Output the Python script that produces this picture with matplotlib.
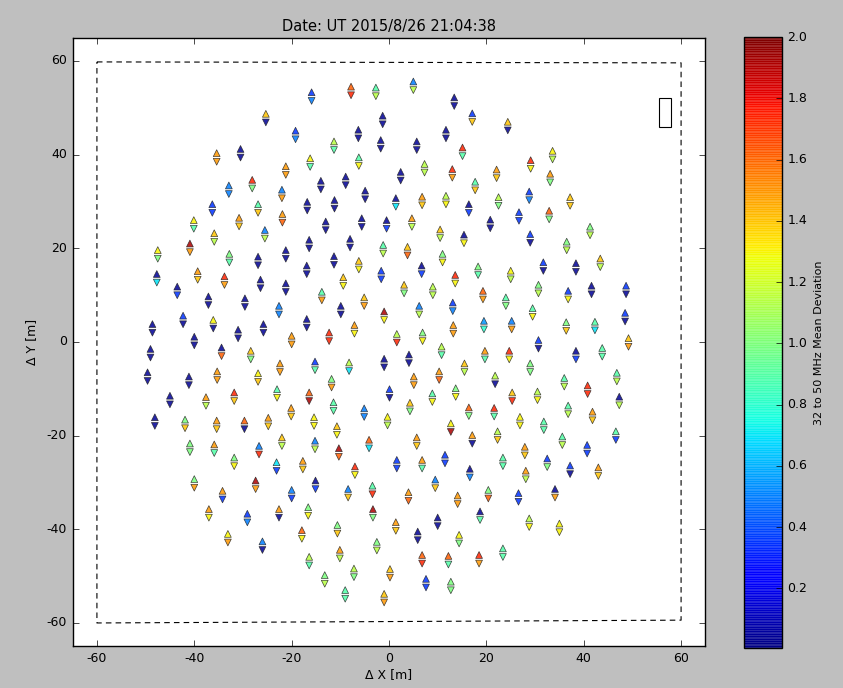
import numpy as np
import matplotlib
matplotlib.use("Agg")
import matplotlib.pyplot as plt
from matplotlib.patches import Rectangle
from matplotlib.colors import Normalize

plt.style.use("classic")
plt.rcParams["axes.unicode_minus"] = False
plt.rcParams["font.family"] = ["DejaVu Sans"]

# Antenna positions (m) and per-polarisation mean deviation, 32-50 MHz
ant_x = [
    -25.3, -19.2, -35.4, -30.5, -16.2, -21.2, -28.1, -32.9, -22.0, -36.3, -26.9, -16.8,
    -15.9, -7.8, -2.7, 5.0, 13.4, 17.1, -1.3, -6.3, 11.7, -11.3, -1.7, 5.7,
    15.1, -6.2, 7.3, 13.0, -14.0, -8.9, 2.4, 17.7, -4.9, -11.2, 1.4, 6.8,
    11.7, 16.4, 24.4, 33.6, 29.1, 22.1, 33.1, 28.8, 22.5, 37.2, 26.7, 32.9,
    -21.9, -30.8, -40.1, -35.9, -25.5, -16.4, -40.9, -47.5, -32.8, -26.9, -21.2, -16.9,
    -47.7, -39.3, -33.8, -26.4, -21.2, -43.5, -37.1, -29.6, -22.6, -42.3, -36.1, -48.6,
    -31.0, -25.8, -16.9, -40.0, -20.0,
    -13.0, -5.6, -0.5, 4.7, 10.5, 15.4, -8.0, -1.2, 3.8, 11.0, -11.3, -6.2,
    -1.6, 6.7, -9.4, 13.6, -13.8, 3.1, 9.0, -5.1, -9.9, -1.0, 6.2, 13.1,
    -7.1, -12.3, 1.6, 6.9, 13.2,
    20.8, 29.0, 41.3, 36.5, 31.7, 38.4, 43.4, 18.3, 25.0, 30.7, 36.8, 41.6,
    48.7, 19.3, 24.0, 29.5, 19.5, 25.2, 36.4, 42.3, 48.5, 30.7, 49.2,
    -34.4, -28.4, -49.0, -49.6, -41.1, -35.3, -22.4, -26.9, -45.0, -37.6, -31.8, -23.0,
    -16.4, -20.1, -48.1, -41.9, -35.4, -29.7, -24.8, -22.0, -40.9, -35.9, -26.7, -31.8,
    -23.1, -17.7,
    10.8, -15.2, -8.2, -1.0, 4.1, 15.5, -11.8, 5.1, 10.3, 0.1, 8.9, 13.7,
    -11.4, -5.1, 4.3, 16.4, -15.4, -10.7, -0.3, 12.7, -15.2, -10.3, -4.1, 5.7,
    17.1, -7.0, 1.6, 6.8, 11.5, 16.6,
    19.7, 24.7, 38.4, 43.8, 29.0, 21.8, 36.0, 46.8, 40.8, 25.3, 30.5, 47.3,
    21.6, 36.8, 41.8, 26.9, 31.8, 22.3, 35.6, 46.6, 27.9, 40.7, 23.4, 32.5,
    28.1, 37.2, 43.0,
    -40.0, -27.4, -34.2, -20.0, -37.0, -29.1, -22.6, -16.6, -33.1, -26.0, -17.9, -16.4,
    -15.1, -8.4, -3.4, 4.0, 9.5, 14.1, -3.3, 1.4, 10.0, -10.6, 5.9, 14.4,
    -2.5, -10.1, 6.8, 12.2, -7.2, 0.2, -13.2, 7.6, 12.7, -9.0, -1.0,
    20.4, 26.6, 34.1, 18.7, 28.8, 35.0, 18.5, 23.4,
]
ant_y = [
    47.8, 44.2, 39.4, 40.3, 38.3, 36.6, 33.7, 32.5, 31.6, 28.5, 28.5, 29.0,
    52.4, 53.6, 53.4, 54.7, 51.3, 47.9, 47.4, 44.4, 44.4, 41.9, 42.2, 41.9,
    40.6, 38.5, 37.1, 36.0, 33.5, 34.4, 35.4, 33.3, 31.4, 29.4, 29.8, 30.1,
    30.3, 28.5, 46.1, 39.9, 37.9, 35.9, 35.0, 31.2, 30.0, 30.0, 26.8, 27.1,
    26.4, 25.6, 25.1, 22.3, 23.0, 20.9, 20.1, 18.7, 17.9, 17.3, 18.7, 15.4,
    13.6, 14.2, 13.1, 12.4, 11.6, 10.9, 8.8, 8.4, 6.8, 4.7, 3.8, 2.9,
    1.7, 2.9, 4.0, 0.2, 0.4,
    24.8, 25.5, 25.1, 25.5, 23.1, 22.0, 21.1, 19.8, 19.4, 17.9, 17.4, 16.4,
    14.3, 15.4, 12.9, 13.4, 9.8, 11.3, 10.9, 8.6, 6.8, 5.6, 6.8, 7.5,
    2.7, 1.1, 0.8, 1.1, 2.7,
    25.2, 22.1, 23.7, 20.5, 16.1, 15.9, 16.9, 15.2, 14.3, 11.3, 10.0, 11.1,
    11.1, 10.0, 8.6, 6.3, 3.6, 3.6, 3.3, 3.4, 5.3, -0.5, -0.1,
    -2.1, -2.8, -2.4, -7.4, -8.3, -7.2, -5.5, -7.6, -12.4, -12.7, -11.7, -11.0,
    -11.7, -15.0, -17.0, -17.5, -17.7, -17.7, -17.1, -21.3, -22.6, -22.8, -23.1, -25.6,
    -26.6, -26.3,
    -1.9, -5.1, -5.3, -4.5, -3.6, -5.5, -8.8, -8.3, -7.2, -11.0, -11.9, -10.8,
    -13.8, -15.1, -13.9, -14.9, -17.0, -18.9, -16.9, -18.3, -22.0, -23.6, -21.8, -21.3,
    -20.8, -27.5, -26.1, -26.1, -25.0, -28.0,
    -2.8, -2.8, -2.8, -2.2, -5.5, -8.1, -8.6, -7.5, -10.2, -11.7, -11.5, -12.6,
    -15.0, -14.5, -15.8, -16.9, -17.9, -20.0, -21.1, -20.0, -23.3, -22.9, -25.6, -25.8,
    -28.4, -27.3, -27.7,
    -30.2, -30.5, -32.7, -32.5, -36.6, -37.6, -36.6, -36.2, -41.9, -43.5, -41.1, -46.8,
    -30.5, -32.3, -31.6, -33.0, -30.3, -33.7, -36.6, -39.4, -38.4, -40.0, -41.4, -42.1,
    -43.6, -45.3, -46.4, -46.6, -49.3, -49.4, -50.7, -51.5, -52.1, -53.9, -54.7,
    -32.5, -33.2, -32.3, -37.1, -38.6, -39.7, -46.4, -45.0,
]
dev_pol_x = [
    1.40, 0.35, 1.50, 0.05, 1.30, 1.50, 1.75, 0.50, 0.50, 0.35, 0.90, 0.05,
    0.35, 1.62, 0.90, 0.50, 0.05, 0.35, 0.05, 0.05, 0.05, 1.15, 0.05, 0.05,
    1.75, 0.90, 1.15, 1.75, 0.05, 0.05, 0.05, 0.90, 0.05, 0.05, 0.05, 1.50,
    1.15, 0.05, 1.40, 1.30, 1.75, 1.50, 1.50, 0.35, 1.15, 1.40, 0.35, 1.62,
    1.50, 1.50, 1.30, 1.40, 0.50, 0.05, 1.92, 1.30, 1.00, 0.05, 0.05, 0.05,
    0.05, 1.50, 1.75, 0.05, 0.05, 0.05, 0.05, 0.05, 0.50, 0.35, 1.30, 0.05,
    0.05, 0.05, 0.05, 0.05, 1.50,
    0.05, 0.05, 0.05, 1.50, 1.40, 0.05, 0.05, 0.90, 1.40, 1.00, 0.05, 1.40,
    0.35, 0.05, 1.40, 1.75, 0.90, 1.40, 1.15, 1.40, 0.05, 1.92, 0.50, 0.35,
    1.50, 1.75, 1.15, 1.00, 1.50,
    0.05, 0.35, 1.00, 1.00, 0.35, 0.05, 1.40, 1.00, 1.30, 1.00, 0.35, 0.05,
    0.35, 1.62, 0.90, 0.90, 0.55, 0.50, 1.00, 0.90, 0.35, 0.35, 1.40,
    0.05, 1.40, 0.05, 0.05, 0.05, 1.50, 1.50, 1.30, 0.05, 1.50, 1.75, 0.90,
    1.62, 1.50, 0.05, 1.00, 1.50, 1.62, 1.50, 1.40, 1.00, 1.50, 0.50, 1.00,
    0.70, 1.50,
    1.15, 0.35, 1.15, 0.05, 0.05, 1.40, 1.00, 1.50, 1.50, 0.35, 0.90, 1.00,
    0.90, 0.50, 1.40, 1.62, 1.30, 1.40, 1.30, 1.30, 0.50, 1.92, 1.62, 1.50,
    1.50, 1.75, 0.35, 1.50, 0.35, 0.05,
    1.50, 1.75, 0.05, 0.90, 1.00, 1.15, 0.90, 0.90, 1.75, 1.40, 1.15, 0.05,
    1.75, 0.90, 1.50, 1.30, 0.90, 1.15, 0.90, 0.90, 1.50, 0.35, 0.90, 0.35,
    1.50, 0.35, 1.50,
    1.00, 1.92, 1.50, 0.50, 1.50, 0.35, 1.50, 1.00, 1.30, 0.50, 1.62, 1.15,
    0.05, 0.50, 0.90, 1.50, 0.50, 1.50, 1.92, 1.50, 0.05, 1.00, 0.05, 1.30,
    1.00, 1.50, 1.62, 1.62, 1.15, 1.40, 1.00, 0.35, 1.00, 0.90, 1.40,
    1.00, 0.35, 0.05, 0.05, 1.15, 1.30, 1.75, 0.90,
]
dev_pol_y = [
    0.05, 0.50, 1.50, 0.05, 0.90, 1.50, 1.00, 0.50, 1.50, 0.35, 1.40, 0.05,
    0.50, 1.75, 1.15, 1.15, 0.05, 1.40, 0.05, 0.05, 0.05, 0.90, 0.05, 0.05,
    0.90, 1.30, 1.15, 1.50, 0.05, 0.05, 0.05, 1.40, 0.05, 0.05, 0.70, 1.40,
    1.30, 0.35, 0.05, 1.15, 1.30, 1.40, 1.00, 0.50, 1.00, 1.40, 0.35, 1.00,
    1.62, 1.40, 0.90, 1.15, 1.15, 0.05, 1.50, 1.00, 0.90, 0.05, 0.05, 0.05,
    0.70, 1.40, 1.50, 0.05, 0.05, 0.35, 0.05, 0.05, 0.50, 0.05, 0.05, 0.05,
    0.05, 0.05, 0.05, 0.05, 1.50,
    0.05, 0.05, 0.35, 1.15, 1.15, 1.30, 0.05, 1.15, 1.62, 1.30, 0.05, 1.30,
    0.35, 0.35, 1.30, 1.30, 1.50, 1.00, 1.15, 1.50, 0.05, 1.30, 1.15, 0.50,
    1.30, 1.75, 1.75, 1.30, 1.50,
    0.05, 0.05, 1.15, 1.15, 0.05, 0.05, 1.15, 0.90, 1.15, 1.15, 1.30, 0.05,
    0.05, 1.50, 1.00, 1.30, 0.80, 1.50, 1.40, 0.70, 0.05, 0.05, 1.50,
    1.62, 1.00, 0.05, 0.05, 0.05, 1.50, 1.50, 1.40, 0.05, 1.15, 1.40, 1.30,
    1.92, 1.40, 0.05, 1.40, 1.40, 0.05, 1.40, 1.15, 1.00, 0.90, 1.75, 1.30,
    0.35, 1.40,
    0.90, 0.90, 0.70, 0.05, 0.05, 1.15, 1.50, 1.50, 1.62, 0.05, 1.30, 1.30,
    0.90, 0.50, 1.00, 1.00, 1.30, 1.30, 1.15, 1.92, 1.15, 1.62, 0.70, 1.40,
    0.05, 1.30, 0.35, 0.90, 0.35, 0.50,
    0.90, 1.30, 0.35, 0.90, 1.00, 0.05, 1.15, 1.15, 1.75, 1.75, 1.30, 1.15,
    0.90, 1.15, 1.40, 1.30, 0.90, 1.40, 1.15, 0.35, 1.40, 0.35, 0.90, 1.00,
    1.15, 0.05, 1.40,
    1.50, 1.50, 0.35, 0.35, 1.30, 0.50, 0.05, 1.30, 1.50, 0.05, 1.30, 0.90,
    0.35, 1.40, 1.75, 1.62, 1.40, 1.50, 1.00, 1.40, 0.05, 1.40, 0.05, 1.00,
    1.15, 1.15, 1.75, 0.90, 1.00, 1.50, 1.15, 0.35, 1.00, 0.90, 1.50,
    1.62, 0.35, 1.50, 0.90, 1.30, 1.30, 1.50, 0.90,
]

# Station outline and cabinet
outline_x = [-60.0, 60.0, 60.0, -60.0, -60.0]
outline_y = [59.8, 59.6, -59.4, -60.0, 59.8]
cabinet_xy = (55.5, 45.9)
cabinet_w, cabinet_h = 2.4, 6.2

pos_x = np.array(ant_x)
pos_y = np.array(ant_y)

fig = plt.figure(figsize=(8.43, 6.88), dpi=100)
fig.patch.set_facecolor("#bfbfbf")
ax = fig.add_axes([0.0861, 0.0605, 0.7507, 0.8849])
cax = fig.add_axes([0.8826, 0.058, 0.045, 0.888])

norm = Normalize(vmin=0.005, vmax=2.0)
cmap = plt.get_cmap("jet")
half_gap = 0.92
msize = 24

sc = ax.scatter(pos_x, pos_y + half_gap, c=dev_pol_x, cmap=cmap, norm=norm,
                marker="^", s=msize, edgecolors="#222222", linewidths=0.5,
                alpha=0.85, zorder=3)
ax.scatter(pos_x, pos_y - half_gap, c=dev_pol_y, cmap=cmap, norm=norm,
           marker="v", s=msize, edgecolors="#222222", linewidths=0.5,
           alpha=0.85, zorder=3)

ax.plot(outline_x, outline_y, color="k", ls=(0, (4, 3)), lw=0.8, zorder=2)
ax.add_patch(Rectangle(cabinet_xy, cabinet_w, cabinet_h, facecolor="white",
                       edgecolor="k", lw=0.8, zorder=2))

ax.set_xlim(-65, 65)
ax.set_ylim(-65, 65)
ticks = np.arange(-60, 61, 20)
ax.set_xticks(ticks)
ax.set_yticks(ticks)
ax.tick_params(labelsize=9)
ax.set_title("Date: UT 2015/8/26 21:04:38", fontsize=10.5)
ax.set_xlabel("\u0394 X [m]", fontsize=9, labelpad=2)
ax.set_ylabel("\u0394 Y [m]", fontsize=9, labelpad=6)

cb = fig.colorbar(sc, cax=cax, ticks=np.arange(0.2, 2.01, 0.2))
cb.solids.set_edgecolor("face")
cb.solids.set_linewidth(0.6)
cb.ax.tick_params(labelsize=9)
cb.set_label("32 to 50 MHz Mean Deviation", fontsize=8)

fig.savefig("out.png", dpi=100, facecolor=fig.get_facecolor())
